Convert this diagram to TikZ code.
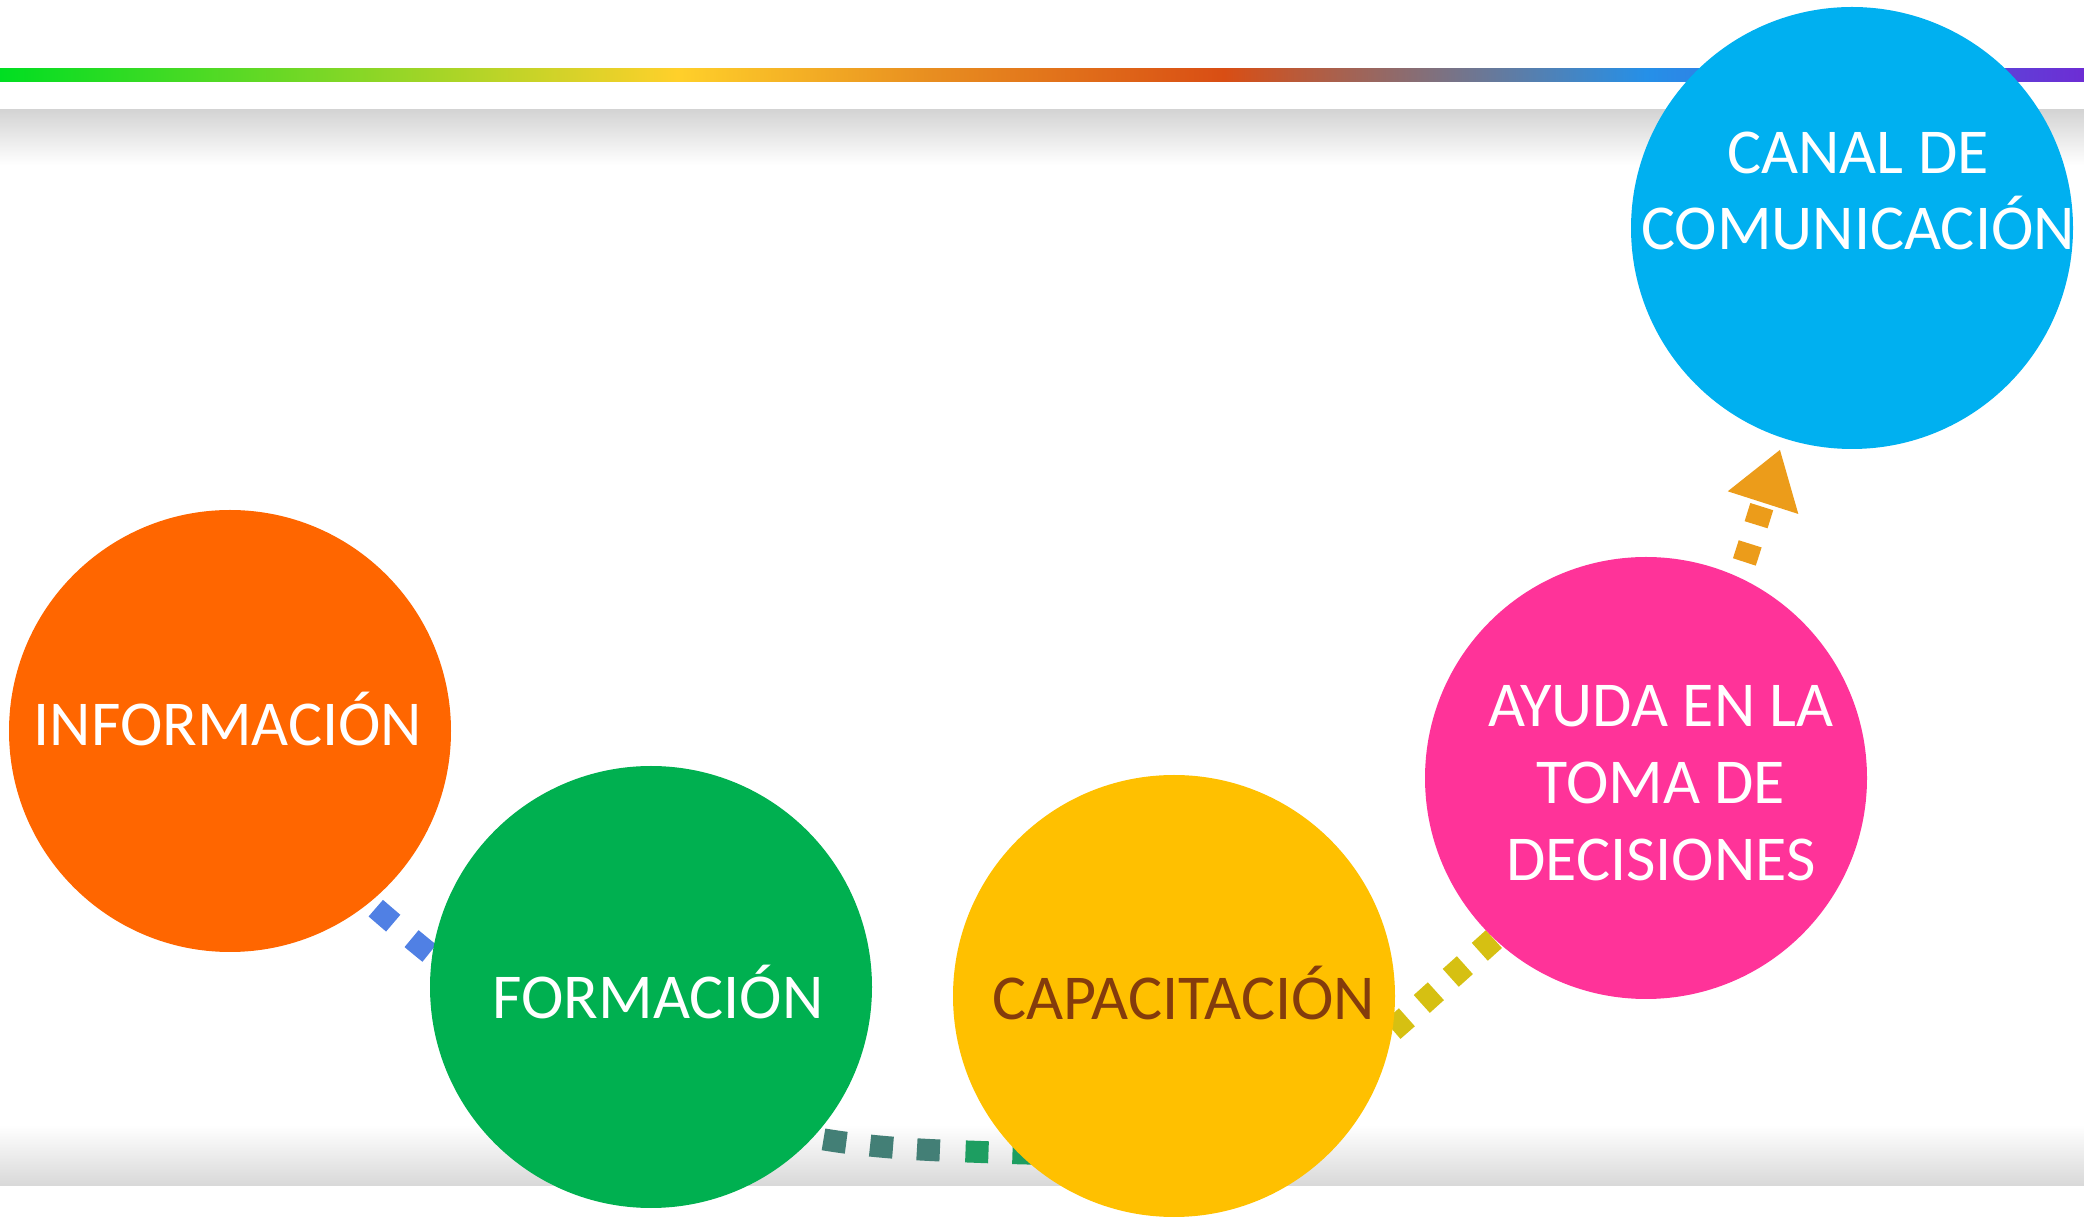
\documentclass[tikz,border=0pt]{standalone}
\usepackage{fontspec}
\setmainfont{Carlito}
\usetikzlibrary{arrows.meta,backgrounds}

\definecolor{infoorange}{HTML}{FF6600}
\definecolor{formgreen}{HTML}{00B050}
\definecolor{capyellow}{HTML}{FFC000}
\definecolor{capbrown}{HTML}{843C0C}
\definecolor{ayudapink}{HTML}{FF3399}
\definecolor{canalblue}{HTML}{00B0F0}
\definecolor{flowblue}{HTML}{5080E4}
\definecolor{flowslate}{HTML}{437F76}
\definecolor{flowgreen}{HTML}{1D9E61}
\definecolor{flowolive}{HTML}{D6C012}
\definecolor{floworange}{HTML}{EC9C1A}
\definecolor{rbgreen}{HTML}{00DE22}
\definecolor{rbyellow}{HTML}{FFD02A}
\definecolor{rborange}{HTML}{E88E20}
\definecolor{rbred}{HTML}{D94E14}
\definecolor{rbgray}{HTML}{7E7180}
\definecolor{rbblue}{HTML}{2590E8}
\definecolor{rbviolet}{HTML}{6D2DD4}

\pgfdeclarehorizontalshading{rainbow}{100bp}{color(0bp)=(rbgreen); color(25bp)=(rbgreen); color(41.25bp)=(rbyellow); color(47.3bp)=(rborange); color(54.35bp)=(rbred); color(59.5bp)=(rbgray); color(64.5bp)=(rbblue); color(75bp)=(rbviolet); color(100bp)=(rbviolet)}

\tikzset{
  bubble/.style={circle, minimum size=4.42cm, inner sep=0pt},
  bubbletext/.style={font=\fontsize{18.2}{21.9}\selectfont, text=white, align=center, inner sep=0pt},
  flowline/.style={line width=0.22cm, dash pattern=on 0.23cm off 0.24cm},
  flowend/.style={line width=0.24cm, dash pattern=on 0.19cm off 0.2cm}
}

\begin{document}
\begin{tikzpicture}
		\useasboundingbox (0,0) rectangle (20.84,12.18);
		
		%%%%% CIRCLES %%%%%
		\node[bubble, fill=infoorange] (info) at (2.30,4.87) {};
		\node[bubble, fill=formgreen] (formacion) at (6.51,2.31) {};
		\node[bubble, fill=capyellow] (capacitacion) at (11.74,2.22) {};
		\node[bubble, fill=ayudapink] (ayuda) at (16.46,4.40) {};
		\node[bubble, fill=canalblue] (canal) at (18.52,9.90) {};
		
		%%%%% TEXTS %%%%%
		\node[bubbletext, anchor=base] (infotxt) at (2.28,4.72) {INFORMACIÓN};
		\node[bubbletext, anchor=base] (formaciontxt) at (6.58,1.99) {FORMACIÓN};
		\node[bubbletext, anchor=base, text=capbrown] (capacitaciontxt) at (11.835,1.98) {CAPACITACIÓN};
		\node[bubbletext] (ayudatxt) at (16.61,4.35) {AYUDA EN LA\\TOMA DE\\DECISIONES};
		\node[bubbletext] (canaltxt) at (18.58,10.27) {CANAL DE\\COMUNICACIÓN};
		
		\begin{scope}[on background layer]
			%%%%% BAR AND PANEL %%%%%
			\shade[shading=rainbow] (0,11.36) rectangle (20.84,11.49);
			\shade[top color=black!17, bottom color=white] (0,10.53) rectangle (20.84,11.08);
			\shade[top color=white, bottom color=black!15] (0,0.33) rectangle (20.84,0.93);
			
			%%%%% DASHED ARROW %%%%%
			\coordinate (a0) at (2.95,3.80);
			\coordinate (a1) at (6.15,1.48);
			\coordinate (b) at (9.535,0.67);
			\coordinate (a2) at (12.27,0.91);
			\coordinate (c) at (14.45,2.35);
			\coordinate (a3) at (16.45,4.50);
			
			\draw[flowline, flowblue, dash phase=0.34cm] (a0) to[out=-40.6, in=154.7] (a1);
			\draw[flowline, flowslate, dash phase=0.145cm] (a1) to[out=-25.3, in=178] (b);
			\draw[flowline, flowgreen, dash phase=0.35cm] (b) to[out=-2, in=198.1] (a2);
			\draw[flowend, flowolive, dash phase=0.015cm] (a2) to[out=18.1, in=222] (c) to[out=42, in=236.7] (a3);
			\draw[flowend, floworange, dash phase=0.045cm, shorten >=0.11cm, -{Triangle[width=0.7cm, length=0.56cm]}] (a3) to[out=56.7, in=252.2] (canal.-108);
		\end{scope}
\end{tikzpicture}
\end{document}
